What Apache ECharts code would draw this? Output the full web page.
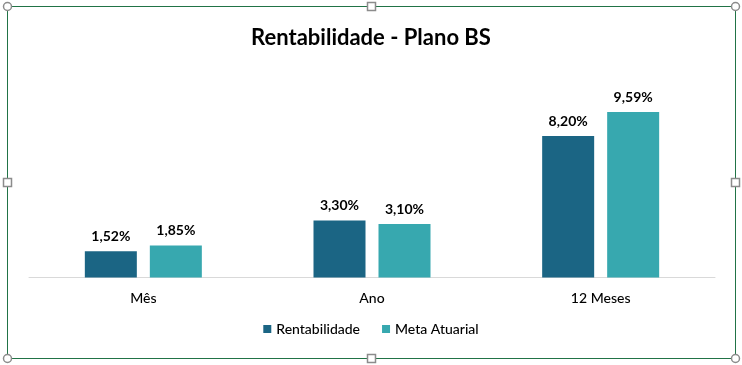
<!DOCTYPE html>
<html><head><meta charset="utf-8">
<script src="https://cdn.jsdelivr.net/npm/echarts@6/dist/echarts.min.js"></script>
<style>html,body{margin:0;padding:0;background:#fff}#c{width:742px;height:365px}</style>
</head><body><div id="c"></div>
<script>
const categories = ['Mês', 'Ano', '12 Meses'];
const rentabilidade = [1.52, 3.30, 8.20];
const metaAtuarial = [1.85, 3.10, 9.59];
const seriesNames = ['Rentabilidade', 'Meta Atuarial'];

const FONT = 'Lato';
const fmt = p => p.value.toFixed(2).replace('.', ',') + '%';
const chart = echarts.init(document.getElementById('c'));
const handles = [];
const hx = [7.5, 371.5, 735.5], hy = [6.5, 182.5, 358.5];
hx.forEach((x, i) => hy.forEach((y, j) => {
  if (i === 1 && j === 1) return;
  const corner = (i !== 1 && j !== 1);
  if (corner) handles.push({type:'circle', shape:{cx:x, cy:y, r:4}, style:{fill:'#fff', stroke:'#8c8c8c', lineWidth:1.5}, z:10});
  else handles.push({type:'rect', shape:{x:x-4, y:y-4, width:8, height:8}, style:{fill:'#fff', stroke:'#8c8c8c', lineWidth:1.5}, z:10});
}));
chart.setOption({
  animation: false,
  backgroundColor: '#fff',
  title: { text: 'Rentabilidade - Plano BS', left: 'center', top: 22,
    textStyle: { fontFamily: FONT, fontSize: 22, fontWeight: 'bold', color: '#000' } },
  legend: { bottom: 24, itemWidth: 8, itemHeight: 8, itemGap: 22, icon: 'rect',
    textStyle: { fontFamily: FONT, fontSize: 14, fontWeight: 500, color: '#000' } },
  grid: { left: 29, right: 27, top: 70.5, bottom: 87.5, containLabel: false },
  xAxis: { type: 'category', data: categories,
    axisLine: { lineStyle: { color: '#d9d9d9', width: 1 } }, axisTick: { show: false },
    axisLabel: { fontFamily: FONT, fontSize: 14, fontWeight: 500, color: '#000', margin: 14 } },
  yAxis: { type: 'value', min: 0, max: 12, show: false, splitLine: { show: false } },
  series: [
    { name: seriesNames[0], type: 'bar', data: rentabilidade, barWidth: 52, barGap: '25%',
      itemStyle: { color: '#1b6584' },
      label: { show: true, position: 'top', distance: 8, formatter: fmt,
        fontFamily: FONT, fontSize: 14, fontWeight: 'bold', color: '#000' } },
    { name: seriesNames[1], type: 'bar', data: metaAtuarial, barWidth: 52,
      itemStyle: { color: '#37a8af' },
      label: { show: true, position: 'top', distance: 8, formatter: fmt,
        fontFamily: FONT, fontSize: 14, fontWeight: 'bold', color: '#000' } }
  ],
  graphic: [
    { type: 'rect', shape: { x: 7.5, y: 6.5, width: 728, height: 352 },
      style: { fill: 'none', stroke: '#217346', lineWidth: 1 }, z: 9 }
  ].concat(handles)
});
</script></body></html>
